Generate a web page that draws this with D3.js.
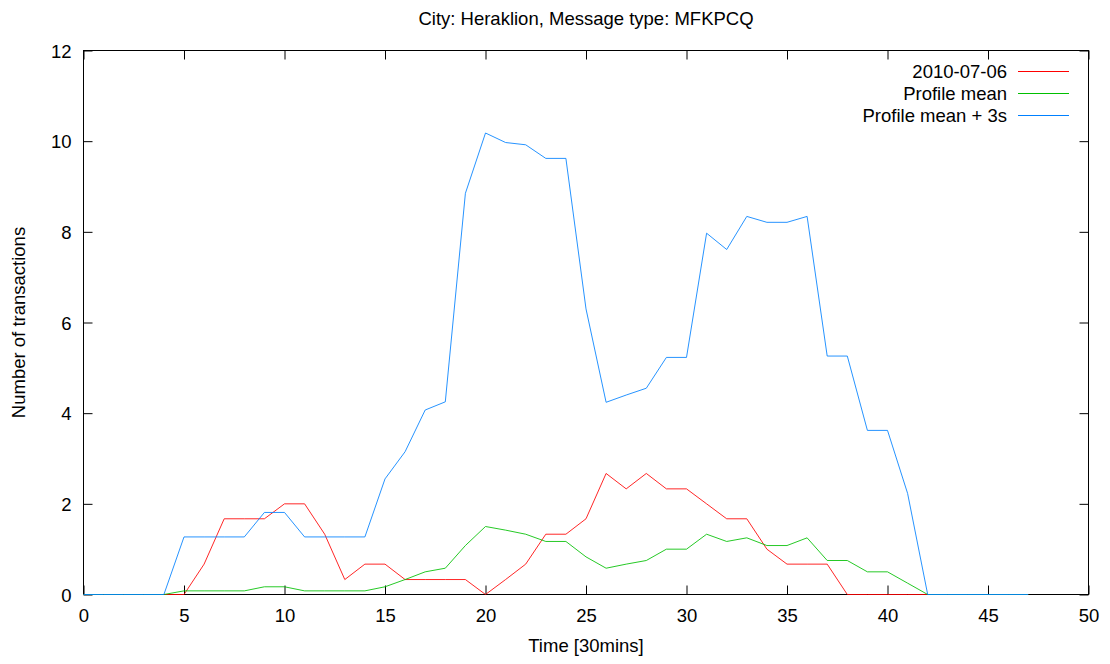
<!DOCTYPE html>
<html>
<head>
<meta charset="utf-8">
<script src="https://cdn.jsdelivr.net/npm/d3@7"></script>
<style>
  body { margin: 0; background: #fff; }
  svg text { font-family: "Liberation Sans", Arial, sans-serif; font-size: 18.5px; fill: #000; }
</style>
</head>
<body>
<svg id="chart" width="1110" height="664"></svg>
<script>
// time slots (30 min each)
var slots = d3.range(0, 48);

var observed = [0,0,0,0,0,0,0.67,1.67,1.67,1.67,2,2,1.33,0.33,0.67,0.67,
  0.33,0.33,0.33,0.33,0,0.33,0.67,1.33,1.33,1.67,2.67,2.33,2.67,2.33,2.33,2,
  1.67,1.67,1,0.67,0.67,0.67,0,0,0,0,0,0,0,0,0,0];

var profileMean = [0,0,0,0,0,0.08,0.08,0.08,0.08,0.17,0.17,0.08,0.08,0.08,0.08,0.17,
  0.33,0.5,0.58,1.08,1.5,1.42,1.33,1.17,1.17,0.83,0.58,0.67,0.75,1,1,1.33,
  1.17,1.25,1.08,1.08,1.25,0.75,0.75,0.5,0.5,0.25,0,0,0,0,0,0];

var profileUpper = [0,0,0,0,0,1.27,1.27,1.27,1.27,1.81,1.81,1.27,1.27,1.27,1.27,2.55,
  3.15,4.07,4.25,8.85,10.18,9.97,9.92,9.62,9.62,6.3,4.24,4.4,4.55,5.23,5.23,7.97,
  7.61,8.34,8.21,8.21,8.34,5.26,5.26,3.62,3.62,2.23,0,0,0,0,0,0];

var seriesNames = ["2010-07-06", "Profile mean", "Profile mean + 3s"];
var seriesColors = ["#ff0000", "#00c000", "#0080ff"];
var xTicks = [0,5,10,15,20,25,30,35,40,45,50];
var yTicks = [0,2,4,6,8,10,12];

var margin = {top: 50.5, right: 21.5, bottom: 69.5, left: 83.5},
    W = 1110, H = 664;

var svg = d3.select("#chart");

var x = d3.scaleLinear().domain([0, 50]).range([margin.left, W - margin.right]);
var y = d3.scaleLinear().domain([0, 12]).range([H - margin.bottom, margin.top]);

var tickLen = 9;

// ticks on all four sides, pointing inwards (gnuplot style)
var xAxisB = d3.axisBottom(x).tickValues(xTicks).tickSizeInner(-tickLen).tickSizeOuter(0).tickPadding(27.5);
var xAxisT = d3.axisTop(x).tickValues(xTicks).tickSizeInner(-tickLen).tickSizeOuter(0).tickFormat("");
var yAxisL = d3.axisLeft(y).tickValues(yTicks).tickSizeInner(-tickLen).tickSizeOuter(0).tickPadding(12);
var yAxisR = d3.axisRight(y).tickValues(yTicks).tickSizeInner(-tickLen).tickSizeOuter(0).tickFormat("");

function styleAxis(g) {
  g.select(".domain").remove();
  g.selectAll(".tick line").attr("stroke", "#000");
  g.selectAll("text").attr("font-family", null).attr("font-size", null);
}

svg.append("g").attr("transform", "translate(0," + y(0) + ")").call(xAxisB).call(styleAxis)
  .selectAll("text").attr("dy", null);
svg.append("g").attr("transform", "translate(0," + y(12) + ")").call(xAxisT).call(styleAxis);
svg.append("g").attr("transform", "translate(" + x(0) + ",0)").call(yAxisL).call(styleAxis)
  .selectAll("text").attr("dy", "0.36em");
svg.append("g").attr("transform", "translate(" + x(50) + ",0)").call(yAxisR).call(styleAxis);

// frame
svg.append("rect")
  .attr("x", x(0)).attr("y", y(12))
  .attr("width", x(50) - x(0)).attr("height", y(0) - y(12))
  .attr("fill", "none").attr("stroke", "#000").attr("stroke-width", 1);

// data lines
var valueLine = d3.line()
  .x(function(d, i) { return x(slots[i]); })
  .y(function(d) { return y(d); });

var allSeries = [observed, profileMean, profileUpper];
allSeries.forEach(function(s, k) {
  svg.append("path")
    .datum(s)
    .attr("fill", "none")
    .attr("stroke", seriesColors[k])
    .attr("stroke-opacity", 0.85)
    .attr("stroke-width", 1)
    .attr("d", valueLine);
});

// legend
var legendRows = svg.append("g").attr("class", "legend")
  .selectAll("g")
  .data(seriesNames)
  .enter().append("g")
  .attr("transform", function(d, i) { return "translate(0," + (71.5 + i * 22) + ")"; });

legendRows.append("text")
  .attr("x", 1007).attr("y", 6.5)
  .attr("text-anchor", "end")
  .text(function(d) { return d; });

legendRows.append("path")
  .attr("d", "M1018,0H1069")
  .attr("fill", "none")
  .style("stroke", function(d, i) { return seriesColors[i]; })
  .attr("stroke-width", 1);

// titles
svg.append("text")
  .attr("x", (x(0) + x(50)) / 2).attr("y", 25)
  .attr("text-anchor", "middle")
  .text("City: Heraklion, Message type: MFKPCQ");

svg.append("text")
  .attr("x", (x(0) + x(50)) / 2).attr("y", 652)
  .attr("text-anchor", "middle")
  .text("Time [30mins]");

svg.append("text")
  .attr("transform", "translate(25," + (y(0) + y(12)) / 2 + ")rotate(-90)")
  .attr("text-anchor", "middle")
  .text("Number of transactions");
</script>
</body>
</html>
